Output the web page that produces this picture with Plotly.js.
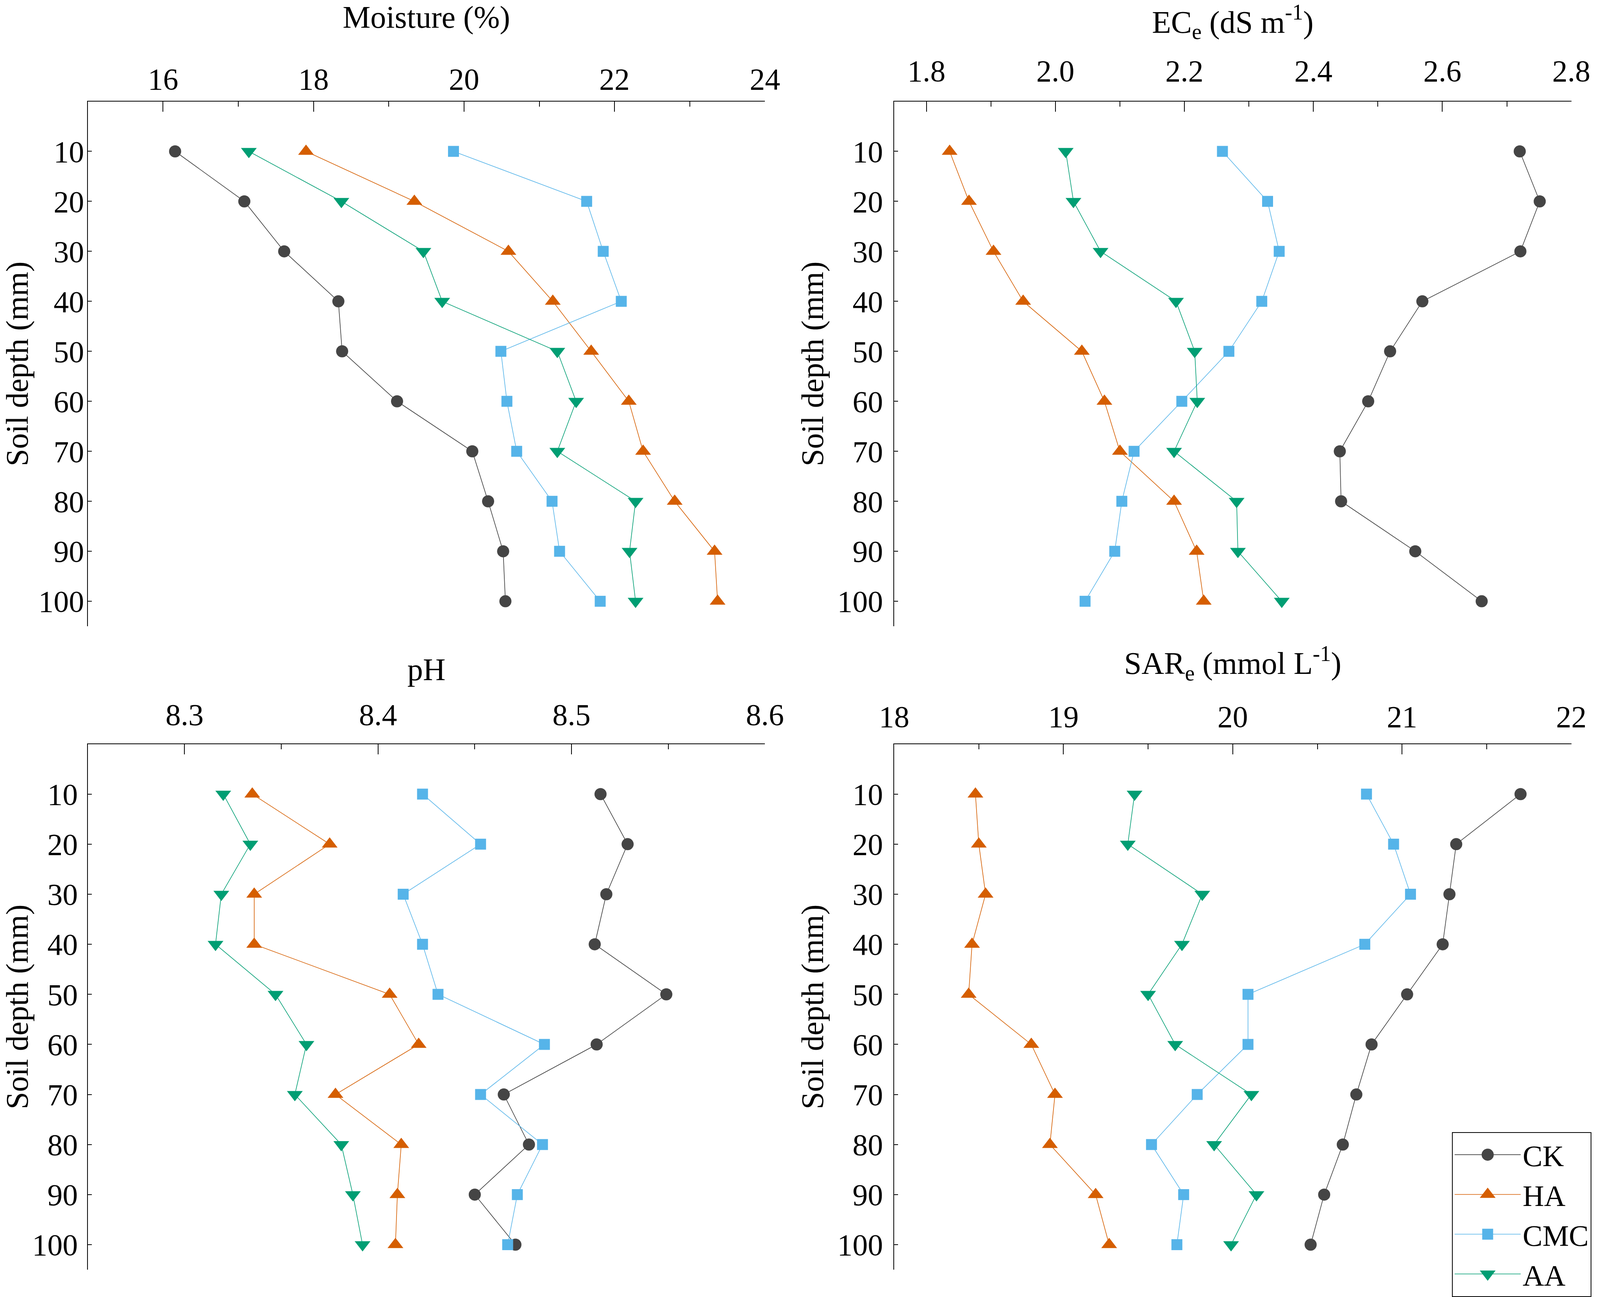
<!DOCTYPE html>
<html>
<head>
<meta charset="utf-8">
<script src="https://cdn.plot.ly/plotly-3.0.1.min.js"></script>
<style>html,body{margin:0;padding:0;background:#fff;overflow:hidden;}</style>
</head>
<body>
<div id="chart"></div>
<script>
// ---------- data ----------
const treatments = ["CK", "HA", "CMC", "AA"];
const depth = [10, 20, 30, 40, 50, 60, 70, 80, 90, 100];

const moistureCK  = [16.16, 17.08, 17.61, 18.33, 18.38, 19.11, 20.11, 20.32, 20.52, 20.55];
const moistureHA  = [17.90, 19.34, 20.59, 21.18, 21.69, 22.19, 22.38, 22.80, 23.33, 23.37];
const moistureCMC = [19.86, 21.63, 21.85, 22.09, 20.49, 20.57, 20.70, 21.17, 21.27, 21.81];
const moistureAA  = [17.14, 18.37, 19.46, 19.71, 21.24, 21.49, 21.24, 22.28, 22.20, 22.28];

const ecCK  = [2.720, 2.751, 2.721, 2.569, 2.519, 2.485, 2.441, 2.443, 2.558, 2.661];
const ecHA  = [1.836, 1.866, 1.904, 1.950, 2.041, 2.076, 2.100, 2.184, 2.219, 2.230];
const ecCMC = [2.259, 2.329, 2.347, 2.320, 2.269, 2.196, 2.122, 2.103, 2.092, 2.046];
const ecAA  = [2.016, 2.028, 2.070, 2.187, 2.216, 2.220, 2.184, 2.281, 2.283, 2.351];

const phCK  = [8.515, 8.529, 8.518, 8.512, 8.549, 8.513, 8.465, 8.478, 8.450, 8.471];
const phHA  = [8.335, 8.375, 8.336, 8.336, 8.406, 8.421, 8.378, 8.412, 8.410, 8.409];
const phCMC = [8.423, 8.453, 8.413, 8.423, 8.431, 8.486, 8.453, 8.485, 8.472, 8.467];
const phAA  = [8.320, 8.334, 8.319, 8.316, 8.347, 8.363, 8.357, 8.381, 8.387, 8.392];

const sarCK  = [21.70, 21.32, 21.28, 21.24, 21.03, 20.82, 20.73, 20.65, 20.54, 20.46];
const sarHA  = [18.48, 18.50, 18.54, 18.46, 18.44, 18.81, 18.95, 18.92, 19.19, 19.27];
const sarCMC = [20.79, 20.95, 21.05, 20.78, 20.09, 20.09, 19.79, 19.52, 19.71, 19.67];
const sarAA  = [19.42, 19.38, 19.82, 19.70, 19.50, 19.66, 20.11, 19.89, 20.14, 19.99];

const panelTitles = ["Moisture (%)", "EC<sub>e</sub> (dS m<sup>-1</sup>)", "pH", "SAR<sub>e</sub> (mmol L<sup>-1</sup>)"];
const yTitle = "Soil depth (mm)";
const depthTicks = [10, 20, 30, 40, 50, 60, 70, 80, 90, 100];

// ---------- sizing (reference is 4409 x 3320; fit the actual viewport) ----------
const REF_W = 4409, REF_H = 3320;
const W = Math.min(window.innerWidth || REF_W, REF_W);
const H = Math.min(window.innerHeight || REF_H, REF_H);
const sx = W / REF_W, sy = H / REF_H;
document.getElementById("chart").style.width = W + "px";
document.getElementById("chart").style.height = H + "px";

// ---------- styling ----------
const FONT = "Liberation Serif, Times New Roman, serif";
const FS = Math.round(78 * sy);
const styles = {
  CK:  {line: "#3a3a3a", marker: "#454545", symbol: "circle", size: 31},
  HA:  {line: "#D55E00", marker: "#D55E00", symbol: "triangle-up", size: 35},
  CMC: {line: "#56B4E9", marker: "#56B4E9", symbol: "square", size: 28},
  AA:  {line: "#009E73", marker: "#009E73", symbol: "triangle-down", size: 35}
};

const panels = [
  {vals: [moistureCK, moistureHA, moistureCMC, moistureAA], xa: "x",  ya: "y"},
  {vals: [ecCK, ecHA, ecCMC, ecAA],                          xa: "x2", ya: "y2"},
  {vals: [phCK, phHA, phCMC, phAA],                          xa: "x3", ya: "y3"},
  {vals: [sarCK, sarHA, sarCMC, sarAA],                      xa: "x4", ya: "y4"}
];

const traces = [];
panels.forEach((p, pi) => {
  treatments.forEach((t, ti) => {
    const s = styles[t];
    traces.push({
      type: "scatter", mode: "lines+markers",
      x: p.vals[ti], y: depth, xaxis: p.xa, yaxis: p.ya,
      name: t, legendgroup: t, showlegend: pi === 0,
      line: {color: s.line, width: 1.6},
      marker: {color: s.marker, symbol: s.symbol, size: s.size, line: {width: 0}},
      cliponaxis: false
    });
  });
});

const colDom = [[242 / REF_W, 2108 / REF_W], [2464 / REF_W, 4330 / REF_W]];
const rowDom = [[1 - 1606 / REF_H, 1 - 260 / REF_H], [1 - 3256 / REF_H, 1 - 1908 / REF_H]];

function xAxis(dom, range, tick0, dtick, minorDtick, anchor, title, fmt, labOff, titOff) {
  return {
    domain: dom, anchor: anchor, side: "top", range: range,
    tickmode: "linear", tick0: tick0, dtick: dtick, tickformat: fmt,
    ticks: "inside", ticklen: 26, tickwidth: 2, tickcolor: "#000",
    minor: {tick0: tick0, dtick: minorDtick, ticks: "inside", ticklen: 13, tickwidth: 2, tickcolor: "#000"},
    showline: true, linecolor: "#000", linewidth: 2, mirror: false,
    showgrid: false, zeroline: false,
    tickfont: {family: FONT, size: FS, color: "#000"},
    ticklabelstandoff: Math.round(labOff * sy),
    title: {text: title, font: {family: FONT, size: Math.round(80 * sy), color: "#000"}, standoff: Math.round(titOff * sy)}
  };
}
function yAxis(dom, anchor, labOff, titOff) {
  return {
    domain: dom, anchor: anchor, range: [105, 0],
    tickmode: "array", tickvals: depthTicks, ticktext: depthTicks.map(String),
    ticks: "inside", ticklen: 10, tickwidth: 2, tickcolor: "#000",
    showline: true, linecolor: "#000", linewidth: 2, mirror: false,
    showgrid: false, zeroline: false,
    tickfont: {family: FONT, size: FS, color: "#000"},
    ticklabelstandoff: Math.round(labOff * sx),
    title: {text: yTitle, font: {family: FONT, size: Math.round(80 * sy), color: "#000"}, standoff: Math.round(titOff * sx)}
  };
}

const layout = {
  width: W, height: H,
  margin: {l: 0, r: 0, t: 0, b: 0, pad: 0},
  paper_bgcolor: "#fff", plot_bgcolor: "rgba(0,0,0,0)",
  font: {family: FONT, size: FS, color: "#000"},
  xaxis:  xAxis(colDom[0], [15, 24], 16, 2, 1, "y", panelTitles[0], "", -3, 65),
  xaxis2: xAxis(colDom[1], [1.75, 2.8], 1.8, 0.2, 0.1, "y2", panelTitles[1], ".1f", 18, 62),
  xaxis3: xAxis(colDom[0], [8.25, 8.6], 8.3, 0.1, 0.05, "y3", panelTitles[2], ".1f", 15, 18),
  xaxis4: xAxis(colDom[1], [18, 22], 18, 1, 0.5, "y4", panelTitles[3], "", 10, 39),
  yaxis:  yAxis(rowDom[0], "x",  -9, 4),
  yaxis2: yAxis(rowDom[0], "x2", 12, 10),
  yaxis3: yAxis(rowDom[1], "x3", 9, 30),
  yaxis4: yAxis(rowDom[1], "x4", 12, 10),
  showlegend: true,
  legend: {
    x: 4001 / REF_W, y: 1 - 2903 / REF_H, xanchor: "left", yanchor: "top",
    bgcolor: "#fff", bordercolor: "#000", borderwidth: 2,
    font: {family: FONT, size: Math.round(76 * sy), color: "#000"},
    itemwidth: Math.round(182 * sx), tracegroupgap: 0, traceorder: "normal"
  }
};

Plotly.newPlot("chart", traces, layout, {staticPlot: true, displayModeBar: false}).then(gd => {
  // Plotly caps legend symbols at 16 px; enlarge them to the size used in the plot.
  gd.querySelectorAll(".legend .traces").forEach(tr => {
    const txt = tr.querySelector(".legendtext");
    const st = txt ? styles[txt.textContent.trim()] : null;
    if (!st) return;
    const k = st.size / 16;
    tr.querySelectorAll(".legendpoints path.scatterpts").forEach(p => {
      p.setAttribute("transform", (p.getAttribute("transform") || "") + " scale(" + k + ")");
    });
  });
});
</script>
</body>
</html>
